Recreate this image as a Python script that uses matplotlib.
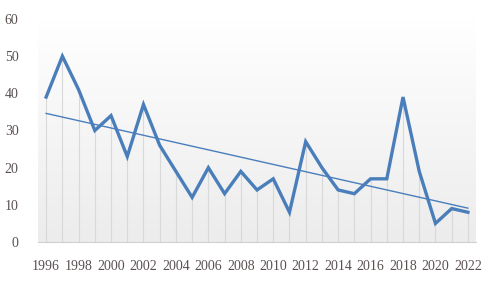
import numpy as np
import matplotlib
matplotlib.use("Agg")
import matplotlib.pyplot as plt

years = list(range(1996, 2023))
values = [39, 50, 41, 30, 34, 23, 37, 26, 19, 12, 20, 13, 19, 14, 17, 8,
          27, 20, 14, 13, 17, 17, 39, 19, 5, 9, 8]
yticks = [0, 10, 20, 30, 40, 50, 60]
xtick_labels = [str(y) for y in range(1996, 2023, 2)]

blue = '#4a7ebb'
txt = '#5a5050'
plt.rcParams['font.family'] = ['Liberation Serif', 'DejaVu Serif']

fig = plt.figure(figsize=(4.94, 2.81), dpi=100)
ax = fig.add_axes([0.077, 0.1388, 0.8866, 0.7936])
x = np.arange(len(years))
ax.set_xlim(-0.5, len(years) - 0.5)
ax.set_ylim(0, 60)

# gradient background
grad = np.linspace(0, 1, 256).reshape(-1, 1)
cmap = matplotlib.colors.LinearSegmentedColormap.from_list('g', ['#ececec', '#ffffff'])
ax.imshow(grad, extent=[-0.5, len(years) - 0.5, 0, 60], origin='lower',
          aspect='auto', cmap=cmap, zorder=0)

# drop lines
ax.vlines(x, 0, values, color='#d9d9d9', lw=0.8, zorder=1)

ax.plot(x, values, color=blue, lw=2.4, zorder=3, solid_joinstyle='miter')
coef = np.polyfit(x, values, 1)
ax.plot(x, np.polyval(coef, x), color=blue, lw=1.0, zorder=2)

for s in ['top', 'right', 'left']:
    ax.spines[s].set_visible(False)
ax.spines['bottom'].set_color('#d0d0d0')
ax.spines['bottom'].set_zorder(4)

ax.set_yticks(yticks)
ax.set_xticks(x[::2])
ax.set_xticklabels(xtick_labels)
ax.tick_params(axis='both', length=0, colors=txt, labelsize=10)
ax.tick_params(axis='y', pad=14)
ax.tick_params(axis='x', pad=13)

fig.savefig('out.png', dpi=100)
